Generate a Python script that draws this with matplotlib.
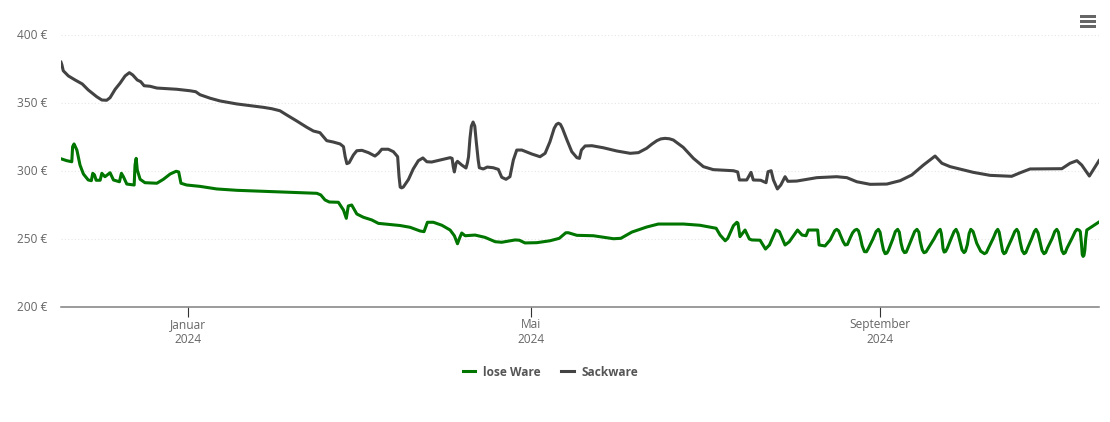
import matplotlib
matplotlib.use("Agg")
import matplotlib.pyplot as plt
from matplotlib.patches import Rectangle
from matplotlib.transforms import ScaledTranslation

plt.rcParams['font.family'] = ['Open Sans', 'DejaVu Sans']

W, H = 1110, 422

# days since 2024-01-01
sack_days = [-44.8,-44.5,-44.0,-42.2,-39.8,-37.3,-35.2,-32.2,-30.4,-28.7,-27.5,-25.7,-24,-22.2,-20.7,-19.5,-17.9,-16.7,-15.5,-13.4,-11,-4,0.7,2.7,4.2,7.8,11.3,17.2,26.6,29.5,32.4,34.8,38.3,41.9,44.2,46.5,47.7,48.9,51.2,53.6,54.8,55.4,56,56.8,58.3,59.5,61.3,63.6,65.9,67.1,68.3,70.6,72.4,73.9,74.4,74.8,75.3,75.9,77.7,79.4,81.2,82.8,84.2,85.9,88.9,92.4,93.1,93.5,93.9,94.5,95,96.5,98,98.5,98.9,99.4,99.9,100.5,101.1,101.6,102.3,102.7,104.1,105.5,107.6,109.4,110.6,112.1,113.5,114.7,115.9,117.7,121.2,124.1,125.9,127.6,129.1,129.9,130.6,131.3,132,133.6,135.3,137.1,138,138.7,140,142.4,146.4,151.2,155.9,158.8,161.7,163.5,165.3,166.7,168.2,169.7,171.1,174.6,178.2,181.7,185.2,192.3,193.8,194.4,197,198.5,199.3,201.9,203.8,204.5,205.6,206.4,207.8,209,210.5,211.5,214.6,221.7,228.7,232.3,235.8,240.5,246.4,251.1,255.2,259.3,263.4,265.8,268.7,276.9,282.8,290.4,293.4,296.9,308.1,311,313.4,315.1,317.8,319.5,321.2]
sack_values = [380,378.2,373.7,369.9,366.9,364,359.6,354.6,352.2,352,353.9,360.1,364.5,369.9,372.3,370.6,366.9,365.7,362.7,362.3,361,360.1,359,358.3,356.1,353.5,351.5,349.3,346.8,345.8,344.3,341.2,336.8,332.1,329.4,328.2,325.2,322.3,321.3,319.9,317.9,310.5,305.4,306.1,311.8,314.9,315.2,313.5,311,313,316,316,314.2,310.5,295.8,288.2,287.6,288.2,293.7,301.5,307.6,309.6,306.8,306.6,308.1,309.8,309.3,303.2,299.3,305.7,307.1,304.4,302.2,306,310.5,324,333,336,333,322,308.1,302.4,301.5,302.9,302.4,301.2,295.4,293.9,295.8,308.1,315.4,315.4,312.5,310.5,313,321.5,331.4,334.3,335.1,334.3,331.4,322.8,314.2,309.8,309.3,315.4,318.4,318.6,317.1,314.7,313,313.5,316.7,319.7,322.3,323.6,324,323.7,322.8,317.4,309.3,303.2,301,300.2,299.3,293.4,293.4,299,293.4,293.2,291.4,299.5,300.2,293.4,286.8,289.7,295.8,292.4,292.6,295.1,295.8,295.1,292.1,290.2,290.4,292.9,297.1,304.4,311,305.7,303.2,299,296.8,296.1,298.7,301.5,301.7,305.7,307.6,304.4,296.3,302,307.6]

lose_days = [-44.8,-42.8,-41,-40.7,-40.2,-39.2,-38.1,-36.9,-35.2,-34.1,-33.6,-33,-32.4,-31,-30.4,-29.3,-27.5,-26.3,-24.2,-23.5,-22.8,-21.6,-19,-18.7,-18.3,-17.9,-16.9,-15.2,-11,-8.7,-6.3,-4.2,-3.3,-2.5,-0.5,4.2,10.1,17.2,45.4,46.8,48.3,49.8,53,54.8,55.8,56.5,57.7,59.5,61.8,64.8,67.1,74.8,78.3,81.8,83.2,84.4,86.5,89.5,92.4,93.9,95,95.7,96.5,97.7,101.2,104.7,108.3,110.6,115.3,116.8,118.8,123,127.6,130.9,133.2,134.1,137.1,142.9,150,152.6,156.5,161.7,165.8,174.7,180.5,186.2,187.6,189.4,190.3,192.3,193.5,193.9,194.6,196.4,197.9,198.8,201.7,203.6,205,207.3,208.5,210.5,212,214.9,216.5,217.9,218.7,222,222.5,224.6,226.4,
227.3,228,228.7,229.4,230,231,231.7,232.5,233.4,234.3,235.1,235.8,236.4,237,237.7,238.5,239.2,239.9,241.5,242.6,243.4,244,244.6,245.2,245.8,246.4,246.9,248.5,249.4,250.2,250.8,251.4,252,252.6,253.2,253.8,255.2,256.2,257,257.7,258.2,258.9,259.5,260.2,261,263,264.4,265.2,265.6,265.9,266.2,266.6,267.1,267.7,269,270.1,270.8,271.5,272.2,272.9,273.6,274.1,274.8,275.4,276,276.8,278.1,279.5,280.8,281.5,282.2,284,284.9,285.5,286,286.7,287.2,287.7,288.3,288.9,290.5,291.5,292.2,292.8,293.4,294.1,294.8,295.4,296,297.5,298.4,299,299.7,300.4,301.1,301.8,302.4,303,304.7,305.6,306.3,306.9,307.5,308.1,308.7,309.3,309.9,311.8,312.8,313.4,314.2,314.6,315,315.3,315.6,315.9,316.2,316.5,316.9,321.2]
lose_values = [309,307.6,306.8,317.9,319.9,315.4,304.4,297.8,293.4,292.9,298.3,297.1,293.2,293.2,298.3,295.8,298.7,293.4,292.1,298.3,295.8,290.4,289.7,304.4,309.3,300.7,293.9,291.4,291,293.9,297.8,299.8,299.3,291,289.7,288.7,286.8,285.8,283.6,282.4,278.7,277.2,277,271.3,265.2,274.3,275,268.4,266,264,261.5,259.9,258.6,255.9,255.4,262.3,262.3,260.1,256.6,252.4,246.5,250.5,254.4,252.4,252.9,251.2,248,247.6,249.3,249.1,247.1,247.3,248.7,250.5,254.6,254.6,252.7,252.4,250.2,250.5,255.1,258.8,261,261,260.1,257.9,252.9,248.7,250.5,259.8,262.3,261.6,251.7,256.6,250,249.3,249.1,242.6,245.6,256.6,255.4,245.6,248,256.6,252.9,252.4,256.6,256.6,245.6,244.9,249.3,
253,256,257.1,256,252.9,248,245.6,246,250.5,254.5,256.5,257.1,256,251.7,245,240.7,240.6,243.2,250,255.5,257.1,255,248,242,239.2,239.6,241.4,250,255.5,257.1,255,247,242,240,240.3,243.2,250.5,255.5,257.1,255,248,242,239.9,240.5,243.2,250,255.5,257.1,254,249.3,243,240.4,240.8,243.2,250,255.5,257.1,254,248,242,240,241,246,254,257.1,255.5,246.8,241,239.2,240,243.2,251,255.5,257.1,255,246.8,241,239.2,240,243.2,250.5,255.5,257.1,255,248,241.5,239.2,240,243.2,250.5,255.5,257.1,254.5,248,241.5,239.2,240,243.2,250.5,255.5,257.1,255,248,241.5,239.2,240,243.2,251,255.5,257.1,256.5,255.4,247,238.5,237.2,238,241.9,250,256.6,262.5]

y_ticks = [200, 250, 300, 350, 400]
y_labels = ['200 €', '250 €', '300 €', '350 €', '400 €']
x_ticks = [0, 121, 244]
x_labels = ['Januar\n2024', 'Mai\n2024', 'September\n2024']
series_names = ['lose Ware', 'Sackware']

fig = plt.figure(figsize=(W/100, H/100), dpi=100, facecolor='white')
ax = fig.add_axes([61/W, 1-307/H, (1099-61)/W, (307-35)/H])
ax.set_xlim(-44.8, 321.2)
ax.set_ylim(200, 400)

ax.plot(lose_days, lose_values, color='#007600', lw=2.2, solid_joinstyle='round', zorder=3, label=series_names[0])
ax.plot(sack_days, sack_values, color='#434343', lw=2.2, solid_joinstyle='round', zorder=3, label=series_names[1])

for s in ['top', 'left', 'right']:
    ax.spines[s].set_visible(False)
ax.spines['bottom'].set_color('#808080')
ax.spines['bottom'].set_linewidth(1.1)

ax.set_yticks(y_ticks, y_labels)
ax.set_xticks(x_ticks, x_labels)
ax.tick_params(axis='y', length=0, pad=10, labelsize=8.6, labelcolor='#666666')
ax.tick_params(axis='x', length=7.2, width=0.8, color='#333333', pad=0.5, labelsize=8.6, labelcolor='#666666')
for t in ax.get_xticklabels():
    t.set_linespacing(1.22)
shift_up = ScaledTranslation(0, 1/100, fig.dpi_scale_trans)
for t in ax.get_yticklabels():
    t.set_transform(t.get_transform() + shift_up)
ax.grid(axis='y', color='#e6e6e6', lw=0.8, ls=(0, (1, 2)))
ax.set_axisbelow(True)

leg = fig.legend(handles=ax.get_lines(), labels=series_names, loc='center', bbox_to_anchor=(550.5/W, 1-372/H),
                 ncol=2, frameon=False, handlelength=1.05, handletextpad=0.62, columnspacing=1.75,
                 prop={'size': 8.6, 'weight': 'bold'}, labelcolor='#555555')

for yy in (15, 20, 25):
    fig.add_artist(Rectangle((1080/W, 1-(yy+3)/H), 16/W, 3/H, transform=fig.transFigure, color='#666666', lw=0))

fig.savefig('out.png', dpi=100, facecolor='white')
